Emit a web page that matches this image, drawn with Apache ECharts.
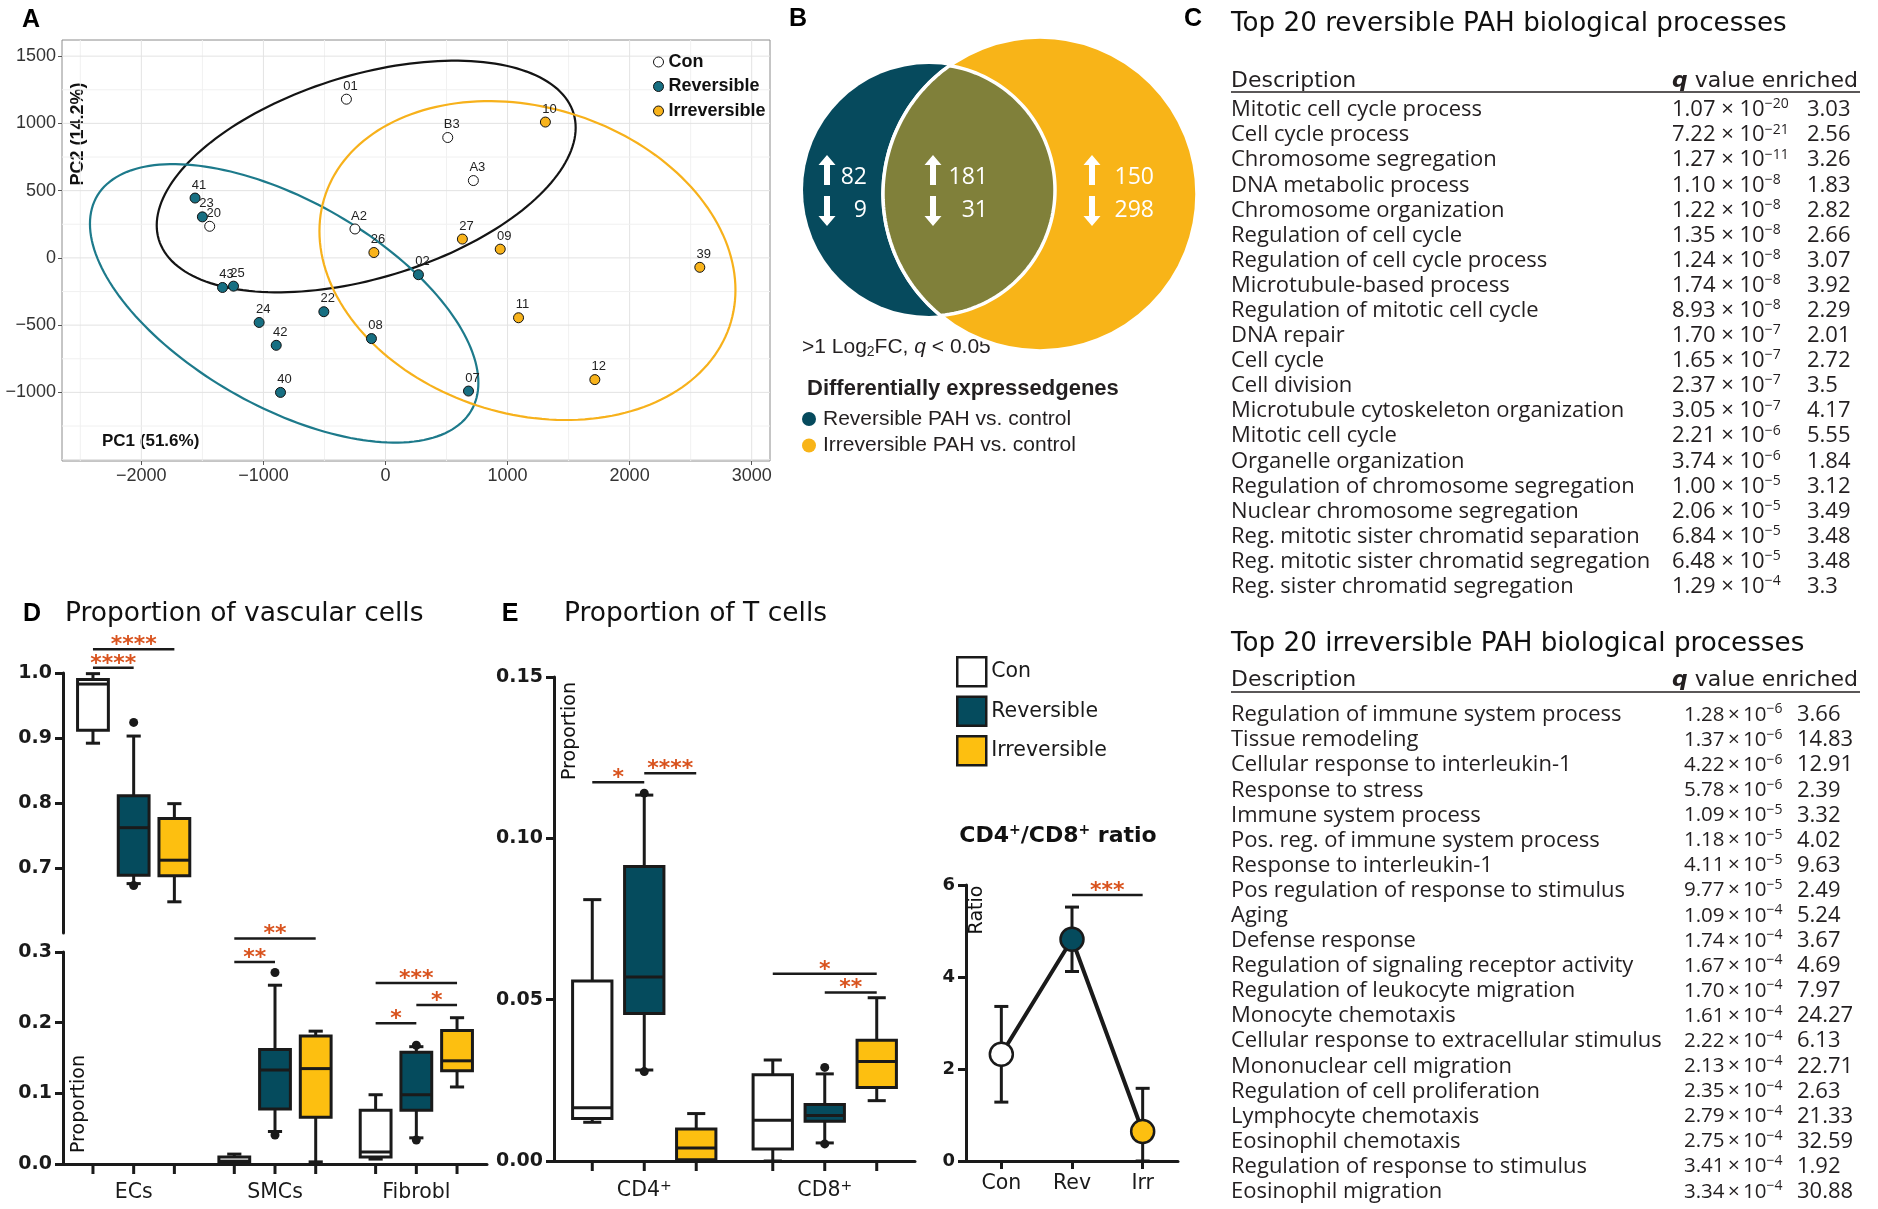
<!DOCTYPE html>
<html>
<head>
<meta charset="utf-8">
<title>PAH figure</title>
<script src="https://cdn.jsdelivr.net/npm/echarts@6.0.0/dist/echarts.min.js"></script>
<style>
html,body{margin:0;padding:0;background:#ffffff;}
#chart{width:1878px;height:1209px;}
</style>
</head>
<body>
<div id="chart"></div>
<script>
// ================= DATA =================
// A: PCA scores (PC1, PC2) per sample
const pcaConIds = ['01', 'B3', 'A3', 'A2', '20'];
const pcaConPC1 = [-320, 510, 720, -250, -1440];
const pcaConPC2 = [1180, 895, 575, 215, 235];
const pcaRevIds = ['41', '23', '43', '25', '24', '42', '22', '40', '08', '02', '07'];
const pcaRevPC1 = [-1560, -1500, -1335, -1245, -1035, -895, -505, -860, -115, 270, 680];
const pcaRevPC2 = [445, 305, -220, -210, -480, -650, -400, -1000, -600, -125, -990];
const pcaIrrIds = ['10', '26', '27', '09', '39', '11', '12'];
const pcaIrrPC1 = [1310, -95, 630, 940, 2575, 1090, 1715];
const pcaIrrPC2 = [1010, 40, 140, 65, -70, -445, -905];
// group ellipses: [centre PC1, centre PC2, half-axis to rightmost point (dPC1, dPC2), vertical conjugate half-axis]
const ellipseCon = [-158, 605, 1716, 363, 781];
const ellipseRev = [-830, -338, 1591, -591, 850];
const ellipseIrr = [1163, -20, 1704, -219, 1165];
const pcaXTicks = [-2000, -1000, 0, 1000, 2000, 3000];
const pcaYTicks = [-1000, -500, 0, 500, 1000, 1500];

// B: differentially expressed genes (reversible only, shared, irreversible only)
const vennLegend = ['Reversible PAH vs. control', 'Irreversible PAH vs. control'];
const vennUp = [82, 181, 150];
const vennDown = [9, 31, 298];

// C: top 20 processes
const revDesc = ['Mitotic cell cycle process', 'Cell cycle process', 'Chromosome segregation', 'DNA metabolic process',
  'Chromosome organization', 'Regulation of cell cycle', 'Regulation of cell cycle process', 'Microtubule-based process',
  'Regulation of mitotic cell cycle', 'DNA repair', 'Cell cycle', 'Cell division', 'Microtubule cytoskeleton organization',
  'Mitotic cell cycle', 'Organelle organization', 'Regulation of chromosome segregation', 'Nuclear chromosome segregation',
  'Reg. mitotic sister chromatid separation', 'Reg. mitotic sister chromatid segregation', 'Reg. sister chromatid segregation'];
const revQ = [1.07e-20, 7.22e-21, 1.27e-11, 1.10e-8, 1.22e-8, 1.35e-8, 1.24e-8, 1.74e-8, 8.93e-8, 1.70e-7,
  1.65e-7, 2.37e-7, 3.05e-7, 2.21e-6, 3.74e-6, 1.00e-5, 2.06e-5, 6.84e-5, 6.48e-5, 1.29e-4];
const revEnr = [3.03, 2.56, 3.26, 1.83, 2.82, 2.66, 3.07, 3.92, 2.29, 2.01, 2.72, 3.5, 4.17, 5.55, 1.84, 3.12, 3.49, 3.48, 3.48, 3.3];
const irrDesc = ['Regulation of immune system process', 'Tissue remodeling', 'Cellular response to interleukin-1',
  'Response to stress', 'Immune system process', 'Pos. reg. of immune system process', 'Response to interleukin-1',
  'Pos regulation of response to stimulus', 'Aging', 'Defense response', 'Regulation of signaling receptor activity',
  'Regulation of leukocyte migration', 'Monocyte chemotaxis', 'Cellular response to extracellular stimulus',
  'Mononuclear cell migration', 'Regulation of cell proliferation', 'Lymphocyte chemotaxis', 'Eosinophil chemotaxis',
  'Regulation of response to stimulus', 'Eosinophil migration'];
const irrQ = [1.28e-6, 1.37e-6, 4.22e-6, 5.78e-6, 1.09e-5, 1.18e-5, 4.11e-5, 9.77e-5, 1.09e-4, 1.74e-4,
  1.67e-4, 1.70e-4, 1.61e-4, 2.22e-4, 2.13e-4, 2.35e-4, 2.79e-4, 2.75e-4, 3.41e-4, 3.34e-4];
const irrEnr = [3.66, 14.83, 12.91, 2.39, 3.32, 4.02, 9.63, 2.49, 5.24, 3.67, 4.69, 7.97, 24.27, 6.13, 22.71, 2.63, 21.33, 32.59, 1.92, 30.88];

// D: proportion of vascular cells, box stats [min, q1, median, q3, max] per category
const groupNames = ['Con', 'Reversible', 'Irreversible'];
const vascCats = ['ECs', 'SMCs', 'Fibrobl'];
const vascCon = [[0.892, 0.912, 0.983, 0.990, 0.999], [0.001, 0.002, 0.004, 0.010, 0.014], [0.007, 0.010, 0.017, 0.076, 0.098]];
const vascRev = [[0.676, 0.689, 0.762, 0.811, 0.903], [0.046, 0.078, 0.133, 0.162, 0.253], [0.037, 0.076, 0.098, 0.158, 0.166]];
const vascIrr = [[0.648, 0.688, 0.712, 0.776, 0.799], [0.003, 0.066, 0.135, 0.181, 0.188], [0.109, 0.132, 0.146, 0.189, 0.207]];
const vascOutliers = [[0, 1, 0.924], [0, 1, 0.673], [1, 1, 0.271], [1, 1, 0.041], [2, 1, 0.168], [2, 1, 0.034]];
// significance bars: [category, group from, group to, height, number of stars]
const vascSig = [[0, 0, 2, 1.0365, 4], [0, 0, 1, 1.008, 4], [1, 0, 2, 0.319, 2], [1, 0, 1, 0.286, 2],
  [2, 0, 2, 0.256, 3], [2, 1, 2, 0.225, 1], [2, 0, 1, 0.199, 1]];

// E: proportion of T cells
const tCats = ['CD4', 'CD8'];
const tCon = [[0.012, 0.0132, 0.0165, 0.0558, 0.081], [0.0, 0.0037, 0.0126, 0.0267, 0.0313]];
const tRev = [[0.0282, 0.0457, 0.057, 0.0913, 0.1134], [0.0056, 0.0123, 0.0141, 0.0175, 0.027]];
const tIrr = [[0.0, 0.0004, 0.004, 0.0099, 0.0147], [0.0187, 0.0228, 0.0308, 0.0374, 0.0506]];
const tOutliers = [[0, 1, 0.114], [0, 1, 0.0277], [1, 1, 0.029], [1, 1, 0.0053]];
const tSig = [[0, 0, 1, 0.1174, 1], [0, 1, 2, 0.1202, 4], [1, 0, 2, 0.058, 1], [1, 1, 2, 0.0522, 2]];

// CD4+/CD8+ ratio
const ratioCats = ['Con', 'Rev', 'Irr'];
const ratioMean = [2.32, 4.82, 0.64];
const ratioLow = [1.28, 4.12, 0.0];
const ratioHigh = [3.36, 5.52, 1.58];
const ratioSig = [[1, 2, 5.78, 3]];

// ================= STYLE / LAYOUT =================
const FN = '"Liberation Sans Narrow", "Liberation Sans", Arial, sans-serif';
const FD = '"DejaVu Sans", sans-serif';
const FL = '"Liberation Sans", Arial, sans-serif';
const FO = '"Open Sans", "Liberation Sans", sans-serif';
const INK = '#1a1a1a';
const TXT = '#231f20';
const SIGC = '#d9531e';
const GROUP_FILL = ['#ffffff', '#054b5d', '#fdbf10'];
const PCA_FILL = ['#ffffff', '#176f82', '#f8b31b'];
const ELL_COL = ['#141414', '#1d7a8b', '#f7b11b'];
const VENN_COL = ['#064a5d', '#80803a', '#f8b418'];
const SUB_OFF = 0.288, BOX_W = 0.218;
const VENN = { rev: { cx: 139, cy: 160, r: 126 }, irr: { cx: 250, cy: 164, r: 157 } };
const VENN_SLOTS = [{ ax: 37, nx: 77 }, { ax: 143, nx: 198 }, { ax: 302, nx: 364 }];
const VENN_ROW = { upA: 140, downA: 181, upN: 147, downN: 180 };

// ================= HELPERS =================
function subPos(api, cat, sub, v) {
  const p = api.coord([cat, v]);
  const band = Math.abs(api.coord([1, v])[0] - api.coord([0, v])[0]);
  return { x: p[0] + (sub - 1) * band * SUB_OFF, y: p[1], band: band };
}
function boxRender(params, api) {
  const cat = api.value(0), sub = api.value(1);
  const vmin = api.value(2), q1 = api.value(3), med = api.value(4), q3 = api.value(5), vmax = api.value(6);
  const s = subPos(api, cat, sub, med);
  const cx = s.x, bw = s.band * BOX_W, cap = bw * 0.46;
  const Y = v => api.coord([cat, v])[1];
  const st = { stroke: INK, lineWidth: 3 };
  return { type: 'group', children: [
    { type: 'line', shape: { x1: cx, y1: Y(vmax), x2: cx, y2: Y(q3) }, style: st },
    { type: 'line', shape: { x1: cx, y1: Y(q1), x2: cx, y2: Y(vmin) }, style: st },
    { type: 'line', shape: { x1: cx - cap / 2, y1: Y(vmax), x2: cx + cap / 2, y2: Y(vmax) }, style: st },
    { type: 'line', shape: { x1: cx - cap / 2, y1: Y(vmin), x2: cx + cap / 2, y2: Y(vmin) }, style: st },
    { type: 'rect', shape: { x: cx - bw / 2, y: Y(q3), width: bw, height: Y(q1) - Y(q3) }, style: { fill: GROUP_FILL[sub], stroke: INK, lineWidth: 3 } },
    { type: 'line', shape: { x1: cx - bw / 2, y1: Y(med), x2: cx + bw / 2, y2: Y(med) }, style: st }
  ] };
}
function outlierRender(params, api) {
  const s = subPos(api, api.value(0), api.value(1), api.value(2));
  return { type: 'circle', shape: { cx: s.x, cy: s.y, r: 4.5 }, style: { fill: INK } };
}
function tickRender(params, api) {
  const cat = api.value(0), sub = api.value(1);
  const s = subPos(api, cat, sub, 0);
  return { type: 'line', shape: { x1: s.x, y1: s.y, x2: s.x, y2: s.y + 10 }, style: { stroke: INK, lineWidth: 3 } };
}
function sigRender(params, api) {
  const cat = api.value(0), g1 = api.value(1), g2 = api.value(2), v = api.value(3), n = api.value(4);
  const a = subPos(api, cat, g1, v), b = subPos(api, cat, g2, v);
  return { type: 'group', children: [
    { type: 'line', shape: { x1: a.x, y1: a.y, x2: b.x, y2: b.y }, style: { stroke: INK, lineWidth: 2.5 } },
    { type: 'text', x: (a.x + b.x) / 2, y: a.y - 4, style: { text: '*'.repeat(n), fill: SIGC, fontFamily: FD, fontWeight: 'bold', fontSize: 22, align: 'center', verticalAlign: 'middle' } }
  ] };
}
function ratioSigRender(params, api) {
  const a = api.coord([api.value(0), api.value(2)]), b = api.coord([api.value(1), api.value(2)]);
  return { type: 'group', children: [
    { type: 'line', shape: { x1: a[0], y1: a[1], x2: b[0], y2: b[1] }, style: { stroke: INK, lineWidth: 2.5 } },
    { type: 'text', x: (a[0] + b[0]) / 2, y: a[1] - 4, style: { text: '*'.repeat(api.value(3)), fill: SIGC, fontFamily: FD, fontWeight: 'bold', fontSize: 22, align: 'center', verticalAlign: 'middle' } }
  ] };
}
function errRender(params, api) {
  const i = api.value(0);
  const lo = api.coord([i, api.value(1)]), hi = api.coord([i, api.value(2)]);
  const st = { stroke: INK, lineWidth: 3 };
  return { type: 'group', children: [
    { type: 'line', shape: { x1: lo[0], y1: lo[1], x2: hi[0], y2: hi[1] }, style: st },
    { type: 'line', shape: { x1: hi[0] - 7, y1: hi[1], x2: hi[0] + 7, y2: hi[1] }, style: st },
    { type: 'line', shape: { x1: lo[0] - 7, y1: lo[1], x2: lo[0] + 7, y2: lo[1] }, style: st }
  ] };
}
function pcaGridRender(params, api) {
  const ch = [];
  for (let v = -2500; v <= 3000; v += 500) {
    const a = api.coord([v, -1510]), b = api.coord([v, 1620]);
    ch.push({ type: 'line', shape: { x1: a[0], y1: a[1], x2: b[0], y2: b[1] }, style: { stroke: v % 1000 === 0 ? '#e3e3e3' : '#f1f1f1', lineWidth: 1 } });
  }
  for (let v = -1500; v <= 1500; v += 250) {
    const a = api.coord([-2650, v]), b = api.coord([3150, v]);
    ch.push({ type: 'line', shape: { x1: a[0], y1: a[1], x2: b[0], y2: b[1] }, style: { stroke: v % 500 === 0 ? '#e3e3e3' : '#f1f1f1', lineWidth: 1 } });
  }
  return { type: 'group', children: ch };
}
const ellipseList = [ellipseCon, ellipseRev, ellipseIrr];
function ellipseRender(params, api) {
  const e = ellipseList[params.dataIndex];
  const pts = [];
  for (let k = 0; k < 180; k++) {
    const t = k / 180 * 2 * Math.PI;
    pts.push(api.coord([e[0] + e[2] * Math.cos(t), e[1] + e[3] * Math.cos(t) + e[4] * Math.sin(t)]));
  }
  return { type: 'polygon', shape: { points: pts }, style: { fill: 'none', stroke: ELL_COL[params.dataIndex], lineWidth: 2.2 } };
}
function arrowPts(P, x, y, up) {
  const d = up ? 1 : -1;
  const raw = [[x, y - 15 * d], [x + 8.5, y - 5 * d], [x + 3, y - 5 * d], [x + 3, y + 15 * d], [x - 3, y + 15 * d], [x - 3, y - 5 * d], [x - 8.5, y - 5 * d]];
  return raw.map(p => P(p[0], p[1]));
}
function vennRender(params, api) {
  const P = (x, y) => api.coord([x, y]);
  const unit = Math.abs(api.coord([1, 0])[0] - api.coord([0, 0])[0]);
  const A = VENN.rev, B = VENN.irr;
  const pa = P(A.cx, A.cy), pb = P(B.cx, B.cy);
  const ch = [];
  ch.push({ type: 'circle', shape: { cx: pa[0], cy: pa[1], r: A.r * unit }, style: { fill: VENN_COL[0] } });
  ch.push({ type: 'circle', shape: { cx: pb[0], cy: pb[1], r: B.r * unit }, style: { fill: VENN_COL[2], stroke: '#fff', lineWidth: 3.5 } });
  const dx = B.cx - A.cx, dy = B.cy - A.cy, d = Math.hypot(dx, dy);
  const a = (A.r * A.r - B.r * B.r + d * d) / (2 * d), h = Math.sqrt(A.r * A.r - a * a);
  const mx = A.cx + a * dx / d, my = A.cy + a * dy / d;
  const i1 = [mx + h * dy / d, my - h * dx / d], i2 = [mx - h * dy / d, my + h * dx / d];
  const t1 = Math.atan2(i1[1] - A.cy, i1[0] - A.cx), t2 = Math.atan2(i2[1] - A.cy, i2[0] - A.cx);
  let s2 = Math.atan2(i2[1] - B.cy, i2[0] - B.cx), s1 = Math.atan2(i1[1] - B.cy, i1[0] - B.cx);
  if (s1 < s2) s1 += 2 * Math.PI;
  const lens = [];
  for (let k = 0; k <= 80; k++) { const t = t1 + (t2 - t1) * k / 80; lens.push(P(A.cx + A.r * Math.cos(t), A.cy + A.r * Math.sin(t))); }
  for (let k = 1; k < 80; k++) { const t = s2 + (s1 - s2) * k / 80; lens.push(P(B.cx + B.r * Math.cos(t), B.cy + B.r * Math.sin(t))); }
  ch.push({ type: 'polygon', shape: { points: lens }, style: { fill: VENN_COL[1], stroke: '#fff', lineWidth: 3.5 } });
  VENN_SLOTS.forEach((s, i) => {
    ch.push({ type: 'polygon', shape: { points: arrowPts(P, s.ax, VENN_ROW.upA, true) }, style: { fill: '#fff' } });
    ch.push({ type: 'polygon', shape: { points: arrowPts(P, s.ax, VENN_ROW.downA, false) }, style: { fill: '#fff' } });
    const u = P(s.nx, VENN_ROW.upN), w = P(s.nx, VENN_ROW.downN);
    const ts = { fill: '#fff', fontFamily: FO, fontSize: 23, align: 'right', verticalAlign: 'middle' };
    ch.push({ type: 'text', x: u[0], y: u[1], style: Object.assign({ text: String(vennUp[i]) }, ts) });
    ch.push({ type: 'text', x: w[0], y: w[1], style: Object.assign({ text: String(vennDown[i]) }, ts) });
  });
  return { type: 'group', children: ch };
}
function fmtSci(v) {
  let e = Math.floor(Math.log10(v));
  let m = v / Math.pow(10, e);
  if (m >= 9.995) { m /= 10; e += 1; }
  if (m < 1) { m *= 10; e -= 1; }
  return { m: m.toFixed(2), e: String(-e) };
}
const pcaLabel = v => (v < 0 ? '\u2212' : '') + Math.abs(v);

// ================= BUILD DATA ITEMS =================
const vascBoxes = [vascCon, vascRev, vascIrr].flatMap((g, sub) => g.map((s, cat) => [cat, sub].concat(s)));
const vascUpper = vascBoxes.filter(b => b[3] >= 0.6);
const vascLower = vascBoxes.filter(b => b[3] < 0.6);
const vascTicks = vascCats.flatMap((c, cat) => groupNames.map((g, sub) => [cat, sub]));
const tBoxes = [tCon, tRev, tIrr].flatMap((g, sub) => g.map((s, cat) => [cat, sub].concat(s)));
const tTicks = tCats.flatMap((c, cat) => groupNames.map((g, sub) => [cat, sub]));

function pcaSeries(name, ids, xs, ys, fill) {
  return {
    type: 'scatter', name: name, xAxisIndex: 0, yAxisIndex: 0, z: 4, symbol: 'circle', symbolSize: 10,
    itemStyle: { color: fill, borderColor: '#111', borderWidth: 1, opacity: 1 },
    label: { show: true, position: 'top', distance: 1, offset: [4, 0], formatter: '{b}', fontFamily: FN, fontSize: 13, color: '#222' },
    emphasis: { disabled: true },
    data: ids.map((id, i) => ({ name: id, value: [xs[i], ys[i]] }))
  };
}

// ================= GRAPHIC TEXT =================
const G = [];
function txt(x, y, text, style, extra) {
  G.push(Object.assign({ type: 'text', x: x, y: y, silent: true,
    style: Object.assign({ text: text, fill: INK, align: 'left', verticalAlign: 'middle' }, style) }, extra || {}));
}
function hline(x1, x2, y, w) {
  G.push({ type: 'line', silent: true, shape: { x1: x1, y1: y, x2: x2, y2: y }, style: { stroke: TXT, lineWidth: w } });
}
// panel letters
[['A', 31, 20], ['B', 798, 19], ['C', 1193, 19], ['D', 32, 614], ['E', 510, 614]].forEach(l =>
  txt(l[1], l[2], l[0], { fontFamily: FL, fontWeight: 'bold', fontSize: 25, align: 'center', fill: '#000' }));
// A axis titles
txt(78, 134, 'PC2 (14.2%)', { fontFamily: FN, fontWeight: 'bold', fontSize: 18, align: 'center', fill: '#111' }, { rotation: Math.PI / 2 });
txt(102, 441, 'PC1 (51.6%)', { fontFamily: FN, fontWeight: 'bold', fontSize: 17, fill: '#111' });
// B caption and legend
txt(802, 347, '{n|>1 Log}{b|2}{n|FC, }{i|q}{n| < 0.05}', {
  fontFamily: FL, fontSize: 21, fill: TXT,
  rich: { n: { fontFamily: FL, fontSize: 21, fill: TXT, lineHeight: 24 }, b: { fontFamily: FL, fontSize: 14, fill: TXT, verticalAlign: 'bottom', lineHeight: 14 }, i: { fontFamily: FL, fontSize: 21, fontStyle: 'italic', fill: TXT, lineHeight: 24 } }
});
txt(807, 389, 'Differentially expressedgenes', { fontFamily: FL, fontWeight: 'bold', fontSize: 22, fill: TXT });
vennLegend.forEach((t, i) => {
  G.push({ type: 'circle', silent: true, shape: { cx: 809, cy: 419 + i * 26.5, r: 7 }, style: { fill: i === 0 ? VENN_COL[0] : VENN_COL[2] } });
  txt(823, 419 + i * 26.5, t, { fontFamily: FL, fontSize: 21, fill: TXT });
});
// C tables
function table(titleY, headY, lineY, rowY, title, desc, q, enr, qx, ex, qSize, sep) {
  txt(1231, titleY, title, { fontFamily: FD, fontSize: 26.2, fill: '#111' });
  txt(1231, headY, 'Description', { fontFamily: FD, fontSize: 22, fill: TXT });
  txt(1858, headY, '{i|q}{n| value enriched}', {
    align: 'right', fontFamily: FD, fontSize: 22, fill: TXT,
    rich: { i: { fontFamily: FD, fontSize: 22, fontStyle: 'italic', fontWeight: 'bold', fill: TXT }, n: { fontFamily: FD, fontSize: 22, fill: TXT } }
  });
  hline(1231, 1860, lineY, 1.6);
  desc.forEach((d, i) => {
    const y = rowY + i * 25.09;
    txt(1231, y, d, { fontFamily: FO, fontSize: 22, fill: TXT });
    const s = fmtSci(q[i]);
    txt(qx, y, '{m|' + s.m + sep + '\u00d7' + sep + '10}{e|\u2212' + s.e + '}', {
      fontFamily: FO, fontSize: qSize, fill: TXT,
      rich: { m: { fontFamily: FO, fontSize: qSize, fill: TXT, lineHeight: 25 }, e: { fontFamily: FO, fontSize: 14, fill: TXT, verticalAlign: 'top', lineHeight: 14 } }
    });
    txt(ex, y, String(enr[i]), { fontFamily: FO, fontSize: 22, fill: TXT });
  });
}
table(24, 81, 92, 110, 'Top 20 reversible PAH biological processes', revDesc, revQ, revEnr, 1672, 1807, 22, ' ');
table(644, 680, 692, 715, 'Top 20 irreversible PAH biological processes', irrDesc, irrQ, irrEnr, 1684, 1797, 20.5, '\u2009');
// D / E titles and axis names
txt(65, 614, 'Proportion of vascular cells', { fontFamily: FD, fontSize: 26.5, fill: '#111' });
txt(564, 614, 'Proportion of T cells', { fontFamily: FD, fontSize: 26.5, fill: '#111' });
txt(79, 1104, 'Proportion', { fontFamily: FD, fontSize: 19, align: 'center', fill: '#111' }, { rotation: Math.PI / 2 });
txt(570, 731, 'Proportion', { fontFamily: FD, fontSize: 19, align: 'center', fill: '#111' }, { rotation: Math.PI / 2 });
txt(977, 910, 'Ratio', { fontFamily: FD, fontSize: 19, align: 'center', fill: '#111' }, { rotation: Math.PI / 2 });
txt(1058, 836, '{b|CD4}{s|+}{b|/CD8}{s|+}{b| ratio}', {
  align: 'center', fontFamily: FD, fontWeight: 'bold', fontSize: 22, fill: '#111',
  rich: { b: { fontFamily: FD, fontWeight: 'bold', fontSize: 22, fill: '#111', lineHeight: 26 }, s: { fontFamily: FD, fontWeight: 'bold', fontSize: 14, fill: '#111', verticalAlign: 'top', lineHeight: 14 } }
});

// ================= AXES =================
const boxYAxis = (grid, min, max, interval, digits, extra) => Object.assign({
  gridIndex: grid, type: 'value', min: min, max: max, interval: interval,
  axisLine: { show: true, onZero: false, lineStyle: { color: INK, width: 3 } },
  axisTick: { show: true, length: 8, lineStyle: { color: INK, width: 3 } },
  splitLine: { show: false },
  axisLabel: { fontFamily: FD, fontWeight: 'bold', fontSize: 19, color: INK, margin: 11, formatter: v => v.toFixed(digits) }
}, extra || {});

const option = {
  animation: false,
  backgroundColor: '#ffffff',
  textStyle: { fontFamily: FL },
  grid: [
    { left: 62, top: 40, width: 708, height: 421, show: true, borderColor: '#8c8c8c', borderWidth: 1, backgroundColor: 'transparent' },
    { left: 790, top: 30, width: 420, height: 340 },
    { left: 63, top: 673, width: 424, height: 260 },
    { left: 63, top: 952, width: 424, height: 212 },
    { left: 554, top: 677, width: 361, height: 484 },
    { left: 966, top: 885, width: 212, height: 276 }
  ],
  xAxis: [
    { gridIndex: 0, type: 'value', min: -2650, max: 3150,
      axisLine: { show: false, onZero: false }, splitLine: { show: false },
      axisTick: { show: true, customValues: pcaXTicks, length: 4, lineStyle: { color: '#555' } },
      axisLabel: { customValues: pcaXTicks, fontFamily: FN, fontSize: 18, color: '#333', margin: 6, formatter: pcaLabel } },
    { gridIndex: 1, type: 'value', min: 0, max: 420, show: false },
    { gridIndex: 2, type: 'category', data: vascCats, show: false },
    { gridIndex: 3, type: 'category', data: vascCats,
      axisLine: { lineStyle: { color: INK, width: 3 } }, axisTick: { show: false },
      axisLabel: { fontFamily: FD, fontSize: 20.5, color: INK, margin: 18 } },
    { gridIndex: 4, type: 'category', data: tCats,
      axisLine: { lineStyle: { color: INK, width: 3 } }, axisTick: { show: false },
      axisLabel: { margin: 18, formatter: v => '{a|' + v + '}{s|+}',
        rich: { a: { fontFamily: FD, fontSize: 20.5, color: INK, lineHeight: 24 }, s: { fontFamily: FD, fontSize: 14, color: INK, verticalAlign: 'top', lineHeight: 14 } } } },
    { gridIndex: 5, type: 'category', data: ratioCats,
      axisLine: { lineStyle: { color: INK, width: 3 } },
      axisTick: { show: true, alignWithLabel: true, length: 8, lineStyle: { color: INK, width: 3 } },
      axisLabel: { fontFamily: FD, fontSize: 20.5, color: INK, margin: 12 } }
  ],
  yAxis: [
    { gridIndex: 0, type: 'value', min: -1510, max: 1620,
      axisLine: { show: false, onZero: false }, splitLine: { show: false },
      axisTick: { show: true, customValues: pcaYTicks, length: 4, lineStyle: { color: '#555' } },
      axisLabel: { customValues: pcaYTicks, fontFamily: FN, fontSize: 18, color: '#333', margin: 6, formatter: pcaLabel } },
    { gridIndex: 1, type: 'value', min: 0, max: 340, inverse: true, show: false },
    boxYAxis(2, 0.6, 1.0, 0.1, 1, { axisLabel: { fontFamily: FD, fontWeight: 'bold', fontSize: 19, color: INK, margin: 11, showMinLabel: false, formatter: v => v.toFixed(1) } }),
    boxYAxis(3, 0, 0.3, 0.1, 1),
    boxYAxis(4, 0, 0.15, 0.05, 2),
    boxYAxis(5, 0, 6, 2, 0, { axisLabel: { fontFamily: FD, fontWeight: 'bold', fontSize: 18, color: INK, margin: 11 } })
  ],
  legend: [
    { orient: 'vertical', left: 653, top: 53, padding: 0, itemWidth: 10, itemHeight: 10, itemGap: 6.5, selectedMode: false, icon: 'circle',
      textStyle: { fontFamily: FN, fontSize: 18, fontWeight: 'bold', color: '#111', lineHeight: 18 },
      data: groupNames.map((n, i) => ({ name: n, icon: 'circle', itemStyle: { color: PCA_FILL[i], borderColor: '#111', borderWidth: 1 } })) },
    { orient: 'vertical', left: 956, top: 656, padding: 0, itemWidth: 29, itemHeight: 29, itemGap: 8, selectedMode: false, icon: 'rect',
      textStyle: { fontFamily: FD, fontSize: 20.5, color: INK, lineHeight: 24 },
      data: groupNames.map((n, i) => ({ name: n, icon: 'rect', itemStyle: { color: GROUP_FILL[i], borderColor: INK, borderWidth: 2.5 } })) }
  ],
  graphic: G,
  series: [
    // A
    { type: 'custom', name: 'grid', xAxisIndex: 0, yAxisIndex: 0, z: 1, silent: true, data: [[0, 0]], renderItem: pcaGridRender },
    { type: 'custom', name: 'ellipses', xAxisIndex: 0, yAxisIndex: 0, z: 2, silent: true, data: [[0, 0], [1, 0], [2, 0]], renderItem: ellipseRender },
    pcaSeries('Con', pcaConIds, pcaConPC1, pcaConPC2, PCA_FILL[0]),
    pcaSeries('Reversible', pcaRevIds, pcaRevPC1, pcaRevPC2, PCA_FILL[1]),
    pcaSeries('Irreversible', pcaIrrIds, pcaIrrPC1, pcaIrrPC2, PCA_FILL[2]),
    // B
    { type: 'custom', name: 'venn', xAxisIndex: 1, yAxisIndex: 1, silent: true, data: [[0, 0]], renderItem: vennRender },
    // D
    { type: 'custom', name: 'vascUpper', xAxisIndex: 2, yAxisIndex: 2, silent: true, data: vascUpper, renderItem: boxRender },
    { type: 'custom', name: 'vascLower', xAxisIndex: 3, yAxisIndex: 3, silent: true, data: vascLower, renderItem: boxRender },
    { type: 'custom', name: 'vascOutUp', xAxisIndex: 2, yAxisIndex: 2, silent: true, z: 3, data: vascOutliers.filter(o => o[2] >= 0.6), renderItem: outlierRender },
    { type: 'custom', name: 'vascOutLow', xAxisIndex: 3, yAxisIndex: 3, silent: true, z: 3, data: vascOutliers.filter(o => o[2] < 0.6), renderItem: outlierRender },
    { type: 'custom', name: 'vascTicks', xAxisIndex: 3, yAxisIndex: 3, silent: true, data: vascTicks, renderItem: tickRender },
    { type: 'custom', name: 'vascSigUp', xAxisIndex: 2, yAxisIndex: 2, silent: true, data: vascSig.filter(s => s[0] === 0), renderItem: sigRender },
    { type: 'custom', name: 'vascSigLow', xAxisIndex: 3, yAxisIndex: 3, silent: true, data: vascSig.filter(s => s[0] !== 0), renderItem: sigRender },
    // E
    { type: 'custom', name: 'tBoxes', xAxisIndex: 4, yAxisIndex: 4, silent: true, data: tBoxes, renderItem: boxRender },
    { type: 'custom', name: 'tOut', xAxisIndex: 4, yAxisIndex: 4, silent: true, z: 3, data: tOutliers, renderItem: outlierRender },
    { type: 'custom', name: 'tTicks', xAxisIndex: 4, yAxisIndex: 4, silent: true, data: tTicks, renderItem: tickRender },
    { type: 'custom', name: 'tSig', xAxisIndex: 4, yAxisIndex: 4, silent: true, data: tSig, renderItem: sigRender },
    // ratio
    { type: 'custom', name: 'ratioErr', xAxisIndex: 5, yAxisIndex: 5, silent: true, z: 2, data: ratioCats.map((c, i) => [i, ratioLow[i], ratioHigh[i]]), renderItem: errRender },
    { type: 'line', name: 'ratio', xAxisIndex: 5, yAxisIndex: 5, z: 3, silent: true, symbol: 'circle', symbolSize: 23, showSymbol: true,
      lineStyle: { color: INK, width: 4 }, itemStyle: { borderColor: INK, borderWidth: 2.5 }, emphasis: { disabled: true },
      data: ratioMean.map((v, i) => ({ value: v, itemStyle: { color: GROUP_FILL[i], borderColor: INK, borderWidth: 2.5 } })) },
    { type: 'custom', name: 'ratioSig', xAxisIndex: 5, yAxisIndex: 5, silent: true, data: ratioSig, renderItem: ratioSigRender }
  ]
};

const chart = echarts.init(document.getElementById('chart'), null, { renderer: 'canvas', width: 1878, height: 1209 });
chart.setOption(option);
</script>
</body>
</html>
